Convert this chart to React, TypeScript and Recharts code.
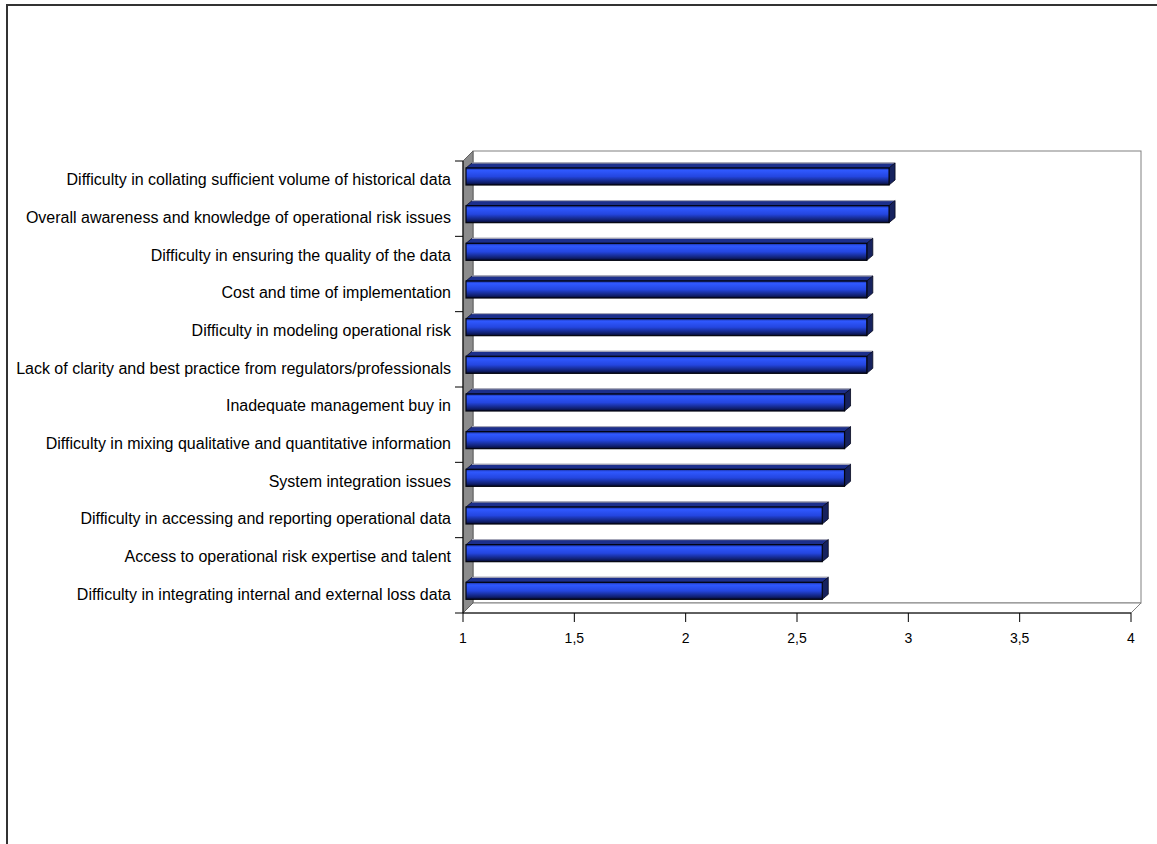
import React from 'react'
import * as R from 'recharts'
import { BarChart, Bar, XAxis, YAxis, Customized } from 'recharts'

const categories = [
  'Difficulty in collating sufficient volume of historical data',
  'Overall awareness and knowledge of operational risk issues',
  'Difficulty in ensuring the quality of the data',
  'Cost and time of implementation',
  'Difficulty in modeling operational risk',
  'Lack of clarity and best practice from regulators/professionals',
  'Inadequate management buy in',
  'Difficulty in mixing qualitative and quantitative information',
  'System integration issues',
  'Difficulty in accessing and reporting operational data',
  'Access to operational risk expertise and talent',
  'Difficulty in integrating internal and external loss data',
]
const scores = [2.9, 2.9, 2.8, 2.8, 2.8, 2.8, 2.7, 2.7, 2.7, 2.6, 2.6, 2.6]
const xTicks = [1, 1.5, 2, 2.5, 3, 3.5, 4]

const data = categories.map((name, i) => ({ name, score: scores[i] }))

const W = 1157
const H = 844
const MARGIN = { top: 161, right: 26, bottom: 201, left: 8 }
const Y_WIDTH = 455
const DEPTH = 10
const FONT = '"Liberation Sans", Arial, sans-serif'

// 3D walls behind the plot (Excel style)
function Walls() {
  const hook = (R as any).usePlotArea
  const area = hook ? hook() : null
  const x = area ? area.x : MARGIN.left + Y_WIDTH
  const y = area ? area.y : MARGIN.top
  const w = area ? area.width : W - MARGIN.left - Y_WIDTH - MARGIN.right
  const h = area ? area.height : H - MARGIN.top - MARGIN.bottom - 30
  const d = DEPTH
  return (
    <g>
      <rect x={x + d} y={y - d} width={w} height={h} fill="#fff" stroke="#808080" />
      <polygon
        points={`${x},${y + h} ${x + d},${y + h - d} ${x + w + d},${y + h - d} ${x + w},${y + h}`}
        fill="#fff"
        stroke="#808080"
      />
      <polygon
        points={`${x},${y} ${x + d},${y - d} ${x + d},${y + h - d} ${x},${y + h}`}
        fill="#8c8c8c"
        stroke="#606060"
      />
      <line x1={x} y1={y} x2={x} y2={y + h} stroke="#000" />
    </g>
  )
}

function Bar3D(props: any) {
  const { x, y, width, height } = props
  if (!width || width <= 0) return null
  const bx = x + 3
  const by = y - 3
  const dx = 6
  const dy = 5
  return (
    <g>
      <polygon
        points={`${bx},${by} ${bx + dx},${by - dy} ${bx + width + dx},${by - dy} ${bx + width},${by}`}
        fill="#1c2f8c"
        stroke="#0a0f30"
        strokeWidth={0.8}
      />
      <line x1={bx + dx} y1={by - dy} x2={bx + width + dx} y2={by - dy} stroke="#b8b8c8" strokeWidth={1} />
      <polygon
        points={`${bx + width},${by} ${bx + width + dx},${by - dy} ${bx + width + dx},${by + height - dy} ${bx + width},${by + height}`}
        fill="#16225e"
        stroke="#05081c"
        strokeWidth={0.8}
      />
      <rect x={bx} y={by} width={width} height={height} fill="url(#barGrad)" stroke="#02040f" strokeWidth={1.2} />
    </g>
  )
}

function CatTick(props: any) {
  const { x, y, payload, index } = props
  const half = payload && payload.offset ? payload.offset : 18.8
  const axisX = x + 12
  return (
    <g>
      <text x={x} y={y} dy="0.35em" textAnchor="end" fontSize={16} fontFamily={FONT} fill="#000">
        {payload.value}
      </text>
      {index % 2 === 0 && <line x1={axisX - 8} y1={y - half} x2={axisX} y2={y - half} stroke="#000" />}
      {index === categories.length - 1 && (
        <line x1={axisX - 8} y1={y + half} x2={axisX} y2={y + half} stroke="#000" />
      )}
    </g>
  )
}

function ValueTick(props: any) {
  const { x, y, payload } = props
  return (
    <text x={x} y={y} dy="0.71em" textAnchor="middle" fontSize={14} fontFamily={FONT} fill="#000">
      {String(payload.value).replace('.', ',')}
    </text>
  )
}

export default function App() {
  return (
    <div style={{ position: 'fixed', left: 0, top: 0, width: W, height: H, overflow: 'hidden', background: '#fff' }}>
      <div
        style={{
          position: 'absolute',
          left: 6,
          top: 4,
          width: 1300,
          height: 1000,
          border: '2px solid #333',
          boxSizing: 'border-box',
        }}
      />
      <div style={{ position: 'absolute', left: 0, top: 0 }}>
        <BarChart width={W} height={H} data={data} layout="vertical" margin={MARGIN} barSize={17}>
          <defs>
            <linearGradient id="barGrad" x1="0" y1="0" x2="0" y2="1">
              <stop offset="0" stopColor="#1a2f9a" />
              <stop offset="0.15" stopColor="#2f58ff" />
              <stop offset="0.5" stopColor="#2446e0" />
              <stop offset="0.85" stopColor="#102070" />
              <stop offset="1" stopColor="#050a30" />
            </linearGradient>
          </defs>
          <Customized component={<Walls />} />
          <XAxis
            type="number"
            domain={[1, 4]}
            ticks={xTicks}
            interval={0}
            allowDataOverflow
            axisLine={{ stroke: '#000' }}
            tickLine={{ stroke: '#000' }}
            tickSize={9}
            tickMargin={11}
            height={30}
            tick={<ValueTick />}
          />
          <YAxis
            type="category"
            dataKey="name"
            width={Y_WIDTH}
            interval={0}
            axisLine={false}
            tickLine={false}
            tickSize={0}
            tickMargin={12}
            tick={<CatTick />}
          />
          <Bar dataKey="score" shape={<Bar3D />} isAnimationActive={false} />
        </BarChart>
      </div>
    </div>
  )
}
